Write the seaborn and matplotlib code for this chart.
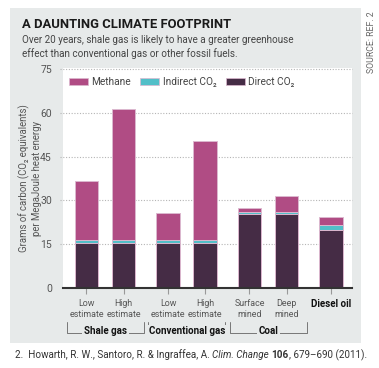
import matplotlib
matplotlib.use("Agg")
import matplotlib.pyplot as plt
from matplotlib.patches import Rectangle, Patch
import matplotlib.transforms as mtransforms
import seaborn as sns
import numpy as np

# ---- data ----
categories = ["Low\nestimate", "High\nestimate", "Low\nestimate", "High\nestimate",
              "Surface\nmined", "Deep\nmined", "Diesel oil"]
groups = ["Shale gas", "Shale gas", "Conventional gas", "Conventional gas",
          "Coal", "Coal", "Diesel oil"]
direct_co2 = [15.3, 15.3, 15.3, 15.3, 25.2, 25.2, 19.9]
indirect_co2 = [1.1, 1.1, 1.1, 1.1, 1.0, 1.0, 1.8]
methane = [20.2, 44.9, 9.4, 34.0, 1.2, 5.3, 2.6]
yticks = [0, 15, 30, 45, 60, 75]

C_METH = "#b04c84"
C_IND = "#52bfc8"
C_DIR = "#452c45"
PANEL = "#e7eaea"

sns.set_style("white")
plt.rcParams["font.family"] = ["Roboto", "DejaVu Sans"]

W, H = 379, 368
fig = plt.figure(figsize=(W / 100, H / 100), dpi=100)
fig.patch.set_facecolor("white")

def fx(px):
    return px / W

def fy(py):
    return 1 - py / H

# gray panel
fig.patches.append(Rectangle((fx(10), fy(343)), fx(361) - fx(10), fy(8) - fy(343),
                             transform=fig.transFigure, facecolor=PANEL,
                             edgecolor="none", zorder=-5))

ax_l, ax_r, ax_t, ax_b = 63, 352, 68, 288
ax = fig.add_axes([fx(ax_l), fy(ax_b), fx(ax_r) - fx(ax_l), fy(ax_t) - fy(ax_b)])
ax.set_facecolor("white")

# positions: step 1 within group, larger step between groups
pos = []
p = 0.0
for i, g in enumerate(groups):
    if i > 0:
        p += 1.0 if groups[i - 1] == g else 1.2
    pos.append(p)
pos = np.array(pos)

direct = np.array(direct_co2)
indirect = np.array(indirect_co2)
meth = np.array(methane)
tot = direct + indirect + meth

edge = "#dcb8cf"
common = dict(native_scale=True, width=0.635, saturation=1, errorbar=None,
              linewidth=0.7, edgecolor=edge, ax=ax)
sns.barplot(x=pos, y=tot, color=C_METH, **common)
sns.barplot(x=pos, y=direct + indirect, color=C_IND, **common)
sns.barplot(x=pos, y=direct, color=C_DIR, **common)

ax.set_xlim(-0.634, pos[-1] + (ax_r - 331) / 37.05)
ax.set_ylim(0, 75.4)
ax.set_yticks(yticks)
ax.set_yticklabels([str(v) for v in yticks], fontsize=7.5, color="#555555")
ax.tick_params(axis="y", length=0, pad=8)
for v in yticks[1:]:
    ax.axhline(v, color="#b5b5b5", linewidth=0.8, linestyle=(0, (1, 1.5)),
               zorder=0.5, xmin=-0.01, clip_on=False)

ax.set_xticks(pos)
ax.set_xticklabels(categories, fontsize=6.4, color="#555555", linespacing=1.25)
for lbl, g in zip(ax.get_xticklabels(), groups):
    if g == "Diesel oil":
        lbl.set_fontweight("bold")
        lbl.set_color("#111111")
        lbl.set_fontsize(7)
ax.tick_params(axis="x", length=4, width=0.8, color="#999999", pad=4, bottom=True)
ax.set_xlabel("")
ax.set_ylabel("")

for s in ["top", "right", "left"]:
    ax.spines[s].set_visible(False)
ax.spines["bottom"].set_color("#333333")
ax.spines["bottom"].set_linewidth(1.5)
ax.grid(False)

# y label
fig.text(fx(30), fy(178), "Grams of carbon (CO₂ equivalents)\nper MegaJoule heat energy",
         rotation=90, ha="center", va="center", fontsize=6.9, color="#555555",
         linespacing=1.2)

# legend
handles = [Patch(facecolor=C_METH, edgecolor=edge, linewidth=0.5, label="Methane"),
           Patch(facecolor=C_IND, edgecolor=edge, linewidth=0.5, label="Indirect CO₂"),
           Patch(facecolor=C_DIR, edgecolor=edge, linewidth=0.5, label="Direct CO₂")]
leg = ax.legend(handles=handles, loc="center left", bbox_to_anchor=(0.02, 0.935),
                ncol=3, frameon=False, fontsize=7.3, handlelength=1.85,
                handleheight=0.75, handletextpad=0.35, columnspacing=0.95,
                borderaxespad=0, borderpad=0)
for t in leg.get_texts():
    t.set_color("#444444")

# group brackets
trans = mtransforms.blended_transform_factory(ax.transData, ax.transAxes)
y_top, y_bot = (ax_b - 322) / (ax_b - ax_t), (ax_b - 333) / (ax_b - ax_t)
seen = []
for g in groups:
    if g not in seen:
        seen.append(g)
for g in seen:
    if g == "Diesel oil":
        continue
    idx = [i for i, gg in enumerate(groups) if gg == g]
    x0 = pos[idx[0]] - 0.53
    x1 = pos[idx[-1]] + 0.55
    ax.plot([x0, x0, x1, x1], [y_top, y_bot, y_bot, y_top], transform=trans,
            color="#777777", linewidth=0.7, clip_on=False)
    ax.text((x0 + x1) / 2, y_bot + 0.008, g, transform=trans, ha="center", va="center",
            fontsize=7, fontweight="bold", color="#111111",
            bbox=dict(facecolor=PANEL, edgecolor="none", pad=1.2))

# titles
fig.text(fx(22), fy(25), "A DAUNTING CLIMATE FOOTPRINT", ha="left", va="center",
         fontsize=9.4, fontweight="bold", color="#1a1a1a")
fig.text(fx(22), fy(47), "Over 20 years, shale gas is likely to have a greater greenhouse\n"
         "effect than conventional gas or other fossil fuels.", ha="left", va="center",
         fontsize=7.1, color="#444444", linespacing=1.3)
fig.text(fx(371), fy(42), "SOURCE: REF. 2", rotation=90, ha="center", va="center",
         fontsize=6.3, color="#666666")

# footnote with mixed styles
pieces = [("2.  Howarth, R. W., Santoro, R. & Ingraffea, A. ", {}),
          ("Clim. Change", {"style": "italic"}),
          (" ", {}),
          ("106", {"weight": "bold"}),
          (", 679–690 (2011).", {})]
fig.canvas.draw()
renderer = fig.canvas.get_renderer()
x = fx(15)
for txt, kw in pieces:
    t = fig.text(x, fy(355), txt, ha="left", va="center", fontsize=7.1,
                 color="#333333", **kw)
    bb = t.get_window_extent(renderer=renderer)
    x += bb.width / (W)

fig.savefig("out.png", dpi=100, facecolor="white")
